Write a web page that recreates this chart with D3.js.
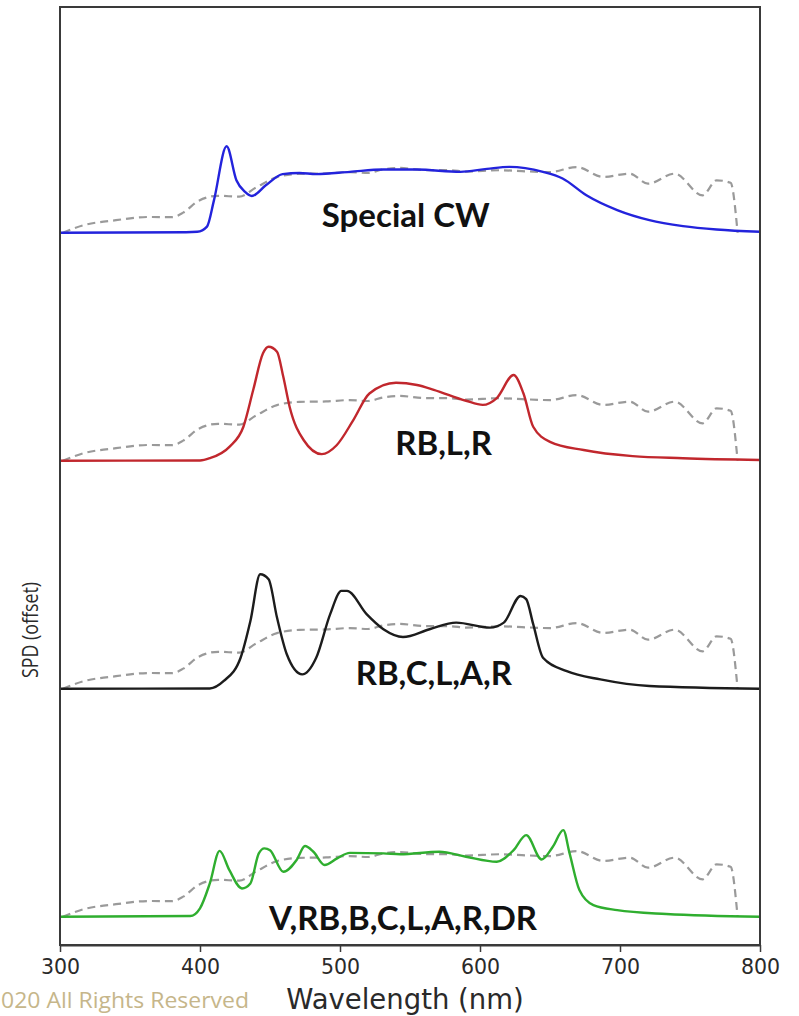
<!DOCTYPE html>
<html>
<head>
<meta charset="utf-8">
<script src="https://cdn.jsdelivr.net/npm/d3@7/dist/d3.min.js"></script>
<style>
  html, body { margin: 0; padding: 0; background: #fff; }
  svg { display: block; }
</style>
</head>
<body>
<svg id="chart" width="799" height="1016"></svg>
<script>
// Wavelength ticks (nm)
const xTicks = [300, 400, 500, 600, 700, 800];

// Spectral power distributions [wavelength nm, relative SPD]
const refSpd = [[302,0],[317,0.033],[340,0.055],[364,0.069],[380,0.068],[388,0.088],[399,0.14],[413,0.162],[428,0.158],[440,0.198],[455,0.244],[471,0.258],[490,0.26],[507,0.266],[520,0.262],[531,0.278],[543,0.284],[560,0.275],[579,0.274],[590,0.268],[614,0.274],[630,0.27],[650,0.266],[669,0.288],[688,0.245],[707,0.259],[720,0.215],[739,0.259],[759,0.164],[769,0.23],[779,0.219],[784,0]];

const cwSpd = [[300,0],[390,0.002],[398,0.004],[405,0.027],[410,0.143],[419,0.379],[426,0.23],[432,0.18],[437,0.161],[447,0.208],[459,0.257],[471,0.262],[483,0.257],[507,0.267],[531,0.277],[555,0.277],[586,0.267],[605,0.28],[621,0.289],[645,0.267],[659,0.238],[676,0.164],[698,0.099],[721,0.055],[745,0.029],[769,0.014],[800,0.004]];

const rblrSpd = [[300,0],[400,0.001],[407,0.011],[421,0.061],[431,0.149],[438,0.31],[445,0.471],[449,0.5],[455,0.478],[459.5,0.368],[464,0.237],[474,0.091],[487,0.029],[497.6,0.068],[509.5,0.178],[521,0.295],[540,0.342],[555,0.332],[567,0.311],[590,0.263],[602,0.245],[612,0.275],[624,0.376],[631,0.296],[638,0.149],[650,0.083],[674,0.047],[709,0.02],[745,0.011],[800,0.003]];

const rbclarSpd = [[300,0],[407,0.001],[417,0.034],[429,0.136],[436,0.297],[443,0.502],[449,0.48],[455,0.312],[462,0.151],[473,0.063],[483,0.136],[493,0.327],[501,0.429],[505,0.429],[519,0.327],[531,0.261],[545,0.227],[564,0.261],[583,0.29],[607,0.268],[617,0.29],[629,0.407],[633,0.393],[638,0.283],[645,0.136],[662,0.077],[686,0.041],[721,0.012],[800,0]];

const fullSpd = [[300,0],[393,0.003],[400,0.037],[407,0.146],[414,0.289],[421,0.204],[430,0.124],[436,0.146],[442,0.278],[446,0.3],[450,0.292],[459.5,0.197],[469,0.249],[475,0.31],[481,0.285],[489,0.227],[498,0.256],[507,0.28],[531,0.278],[543,0.274],[571,0.285],[590,0.263],[612,0.241],[624,0.292],[633,0.358],[644,0.251],[652,0.307],[659.5,0.38],[664,0.278],[671,0.117],[681,0.051],[698,0.029],[733,0.012],[800,0]];

// Spectrum names, vertical offsets and line colours, top to bottom
const seriesNames = ["Special CW", "RB,L,R", "RB,C,L,A,R", "V,RB,B,C,L,A,R,DR"];
const seriesData = [cwSpd, rblrSpd, rbclarSpd, fullSpd];
const seriesOffsets = [3, 2, 1, 0];
const seriesColors = ["#2323dc", "#c1272d", "#1c1c1c", "#2fae2f"];

// Label placement (centre wavelength, pixel shift from the baseline)
const labelAt = [[547, -6], [574, -6], [567, -4], [545, 13]];

const svg = d3.select("#chart");
const margin = { left: 60, right: 39, top: 7, bottom: 71 };
const W = 799, H = 1016;

const x = d3.scaleLinear().domain([300, 800]).range([margin.left, W - margin.right]);
const y = d3.scaleLinear().domain([-0.124, 3.99]).range([H - margin.bottom, margin.top]);

const line = d3.line()
  .x(d => x(d[0]))
  .curve(d3.curveMonotoneX);

const plot = svg.append("g");

seriesData.forEach((data, i) => {
  const off = seriesOffsets[i];
  const ly = line.y(d => y(d[1] + off));
  // reference spectrum (dashed)
  plot.append("path")
    .attr("d", ly(refSpd))
    .attr("fill", "none")
    .attr("stroke", "#9a9a9a")
    .attr("stroke-width", 2.2)
    .attr("stroke-dasharray", "8,5");
  // LED spectrum
  plot.append("path")
    .attr("d", ly(data))
    .attr("fill", "none")
    .attr("stroke", seriesColors[i])
    .attr("stroke-width", 2.4)
    .attr("stroke-linejoin", "round");
  // label
  plot.append("text")
    .attr("x", x(labelAt[i][0]))
    .attr("y", y(off) + labelAt[i][1])
    .attr("text-anchor", "middle")
    .attr("font-family", "Lato, 'Open Sans', sans-serif")
    .attr("font-weight", 700)
    .attr("font-size", 33)
    .attr("fill", "#111")
    .text(seriesNames[i]);
});

// frame
svg.append("rect")
  .attr("x", margin.left)
  .attr("y", margin.top)
  .attr("width", W - margin.left - margin.right)
  .attr("height", H - margin.top - margin.bottom)
  .attr("fill", "none")
  .attr("stroke", "#3a3a3a")
  .attr("stroke-width", 2);

// bottom axis
const xAxis = svg.append("g")
  .attr("transform", `translate(0,${H - margin.bottom})`)
  .call(d3.axisBottom(x).tickValues(xTicks).tickSize(7).tickSizeOuter(0).tickPadding(7));
xAxis.select(".domain").attr("stroke", "#3a3a3a").attr("stroke-width", 2);
xAxis.selectAll(".tick line").attr("stroke", "#3a3a3a").attr("stroke-width", 1.5);
xAxis.selectAll(".tick text")
  .attr("font-family", "'DejaVu Sans', sans-serif")
  .attr("font-size", 20.5)
  .attr("fill", "#2a2a2a");

// axis titles
svg.append("text")
  .attr("x", x(550) - 5)
  .attr("y", 1009)
  .attr("text-anchor", "middle")
  .attr("font-family", "'DejaVu Sans', sans-serif")
  .attr("font-size", 27.5)
  .attr("fill", "#2a2a2a")
  .text("Wavelength (nm)");

svg.append("text")
  .attr("transform", `translate(38,630) rotate(-90)`)
  .attr("text-anchor", "middle")
  .attr("font-family", "'Open Sans', sans-serif")
  .attr("font-size", 21)
  .attr("textLength", 96)
  .attr("lengthAdjust", "spacingAndGlyphs")
  .attr("fill", "#2a2a2a")
  .text("SPD (offset)");

// copyright line
svg.append("text")
  .attr("x", 1)
  .attr("y", 1008)
  .attr("font-family", "'Open Sans', sans-serif")
  .attr("font-size", 21)
  .attr("textLength", 248)
  .attr("lengthAdjust", "spacingAndGlyphs")
  .attr("fill", "#c6b68a")
  .text("020 All Rights Reserved");
</script>
</body>
</html>
